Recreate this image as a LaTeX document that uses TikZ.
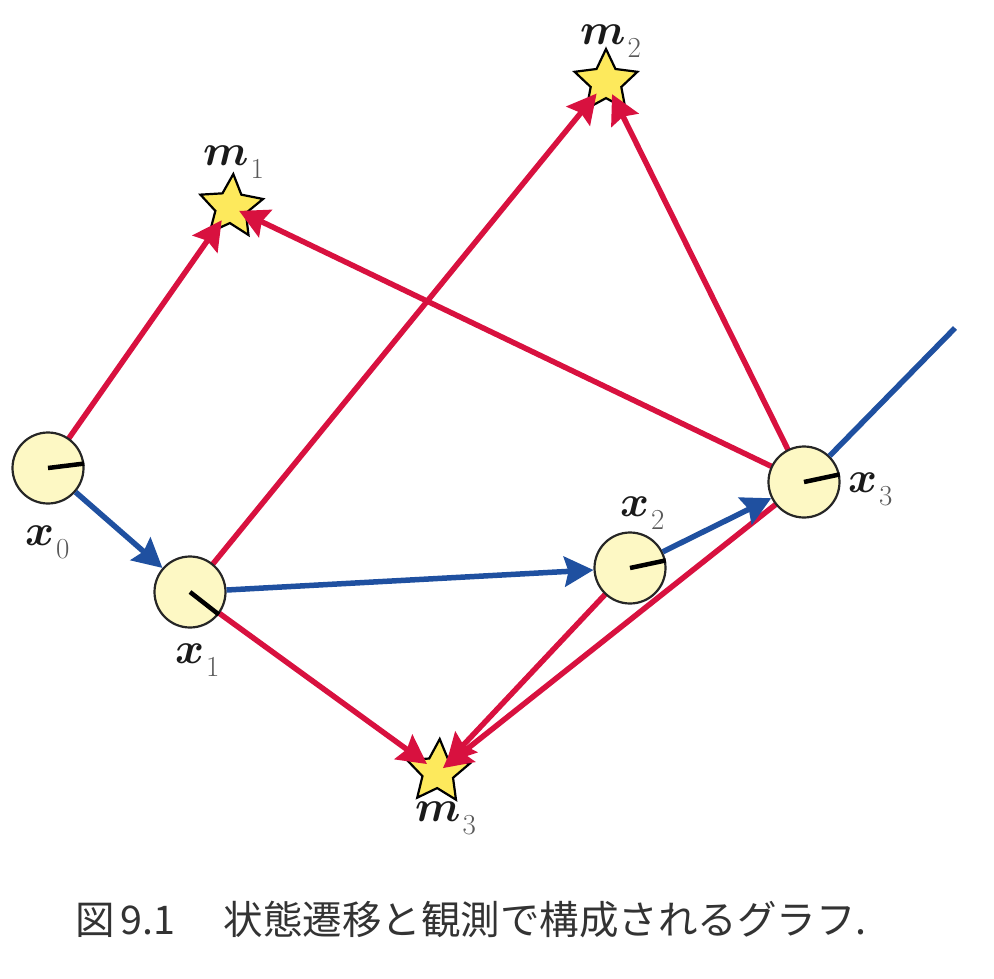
\documentclass[tikz,border=0pt]{standalone}
\usepackage{amsmath,amsbsy,graphicx}
\usepackage{fontspec}
\newfontfamily\cjk{Noto Sans CJK JP}
\usetikzlibrary{shapes.geometric,arrows.meta}
\definecolor{redline}{HTML}{D8113F}
\definecolor{blueline}{HTML}{1F50A0}
\definecolor{cfill}{HTML}{FDF8C4}
\definecolor{sfill}{HTML}{FDE95C}
\definecolor{lab}{HTML}{1A1A1A}
\tikzset{
  pose/.style={circle,draw=black!85,line width=2.2pt,fill=cfill,minimum size=71pt,inner sep=0pt},
  mark star/.style={star,star points=5,star point ratio=2.05,draw=black,line width=2.2pt,fill=sfill,minimum size=66pt,inner sep=0pt},
  obs/.style={draw=redline,line width=5.5pt,-{Stealth[length=29pt,width=30pt,inset=4pt]}},
  move/.style={draw=blueline,line width=5.5pt,-{Stealth[length=29pt,width=30pt,inset=4pt]}},
  hand/.style={draw=black,line width=4.5pt},
  lbl/.style={inner sep=0pt,text=lab,anchor=base west},
}
\newcommand{\lv}[2]{\scalebox{4.4}{$\boldsymbol{#1}$}\hspace{2pt}\raisebox{-13pt}{\fontsize{29}{29}\selectfont\color{black!65}#2}}
\begin{document}
\begin{tikzpicture}[x=1pt,y=-1pt]
\useasboundingbox (0,0) rectangle (994,978);
\node[mark star,rotate=-4] (m1) at (231,207) {};
\node[mark star] (m2) at (606,82) {};
\node[mark star,rotate=-3] (m3) at (438,772) {};
\coordinate (p0) at (48,468);
\coordinate (p1) at (190,592);
\coordinate (p2) at (630,568);
\coordinate (p3) at (804,482);
\coordinate (free) at (955,328);
\draw[obs,shorten >=-14pt] (p0) -- (m1);
\draw[obs,shorten >=-17pt] (p1) -- (m2);
\draw[obs,shorten >=-10pt] (p1) -- (m3);
\draw[obs,shorten >=-6pt] (p2) -- (m3);
\draw[obs,shorten >=-9pt] (p3) -- (m1);
\draw[obs,shorten >=-13pt] (p3) -- (m2);
\draw[obs,shorten >=-14pt] (p3) -- (m3);
\node[pose] (x0) at (p0) {};
\node[pose] (x1) at (p1) {};
\node[pose] (x2) at (p2) {};
\node[pose] (x3) at (p3) {};
\draw[move] (x0) -- (x1);
\draw[move] (x1) -- (x2);
\draw[move] (x2) -- (x3);
\draw[draw=blueline,line width=5.5pt] (x3) -- (free);
\draw[hand] (x0.center) -- (x0.7);
\draw[hand] (x1.center) -- (x1.-38);
\draw[hand] (x2.center) -- (x2.12);
\draw[hand] (x3.center) -- (x3.12);
\node[lbl] (lx0) at (25,545) {\lv{x}{0}};
\node[lbl] (lx1) at (175,663) {\lv{x}{1}};
\node[lbl] (lx2) at (620,516) {\lv{x}{2}};
\node[lbl] (lx3) at (848,492) {\lv{x}{3}};
\node[lbl] (lm1) at (203,165) {\lv{m}{1}};
\node[lbl] (lm2) at (580,44) {\lv{m}{2}};
\node[lbl] (lm3) at (415,821) {\lv{m}{3}};
\node[inner sep=0pt,anchor=west,text=black!80] (cap) at (75,920) {\fontsize{39.5}{39.5}\selectfont\cjk 図\hspace{6pt}9.1\hspace{48pt}状態遷移と観測で構成されるグラフ.};
\end{tikzpicture}
\end{document}
